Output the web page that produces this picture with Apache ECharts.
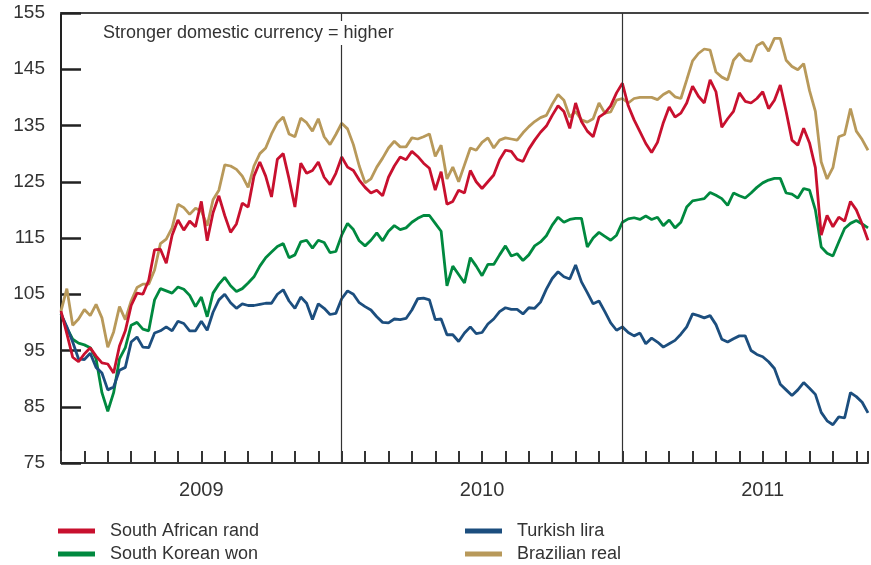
<!DOCTYPE html>
<html>
<head>
<meta charset="utf-8">
<script src="https://cdn.jsdelivr.net/npm/echarts@6/dist/echarts.min.js"></script>
<style>
  html, body { margin: 0; padding: 0; background: #fff; }
  #chart { width: 871px; height: 565px; }
</style>
</head>
<body>
<div id="chart"></div>
<script>
// Weekly-ish readings (4 per month) starting Jan 2009, index = 100-ish base
const MONTH_STEP = 0.25;
const yearLabels = { 6: "2009", 18: "2010", 30: "2011" };
const yearBreaks = [12, 24];

const randValues = [
  102, 98, 93.8, 93.0, 94.4, 95.5, 94.0, 92.8, 92.6, 91, 95.8, 98.5,
  103, 105.2, 105, 107.5, 112.9, 113, 110.5, 115.5, 118.2, 116.4, 118, 117,
  121.5, 114.5, 119.5, 122.5, 119, 116, 117.5, 121.2, 120.5, 126, 128.5, 126,
  122.3, 129, 130, 125.5, 120.5, 128.3, 126.5, 127, 128.5, 125.8, 124.5, 126.5,
  129.4, 127.6, 127, 125.3, 124, 123, 123.5, 122.5, 125.8, 127.8, 129.4, 128.9,
  130.4, 129.5, 128.3, 127.4, 123.5, 126.8, 121, 121.5, 123.5, 123, 127, 125,
  123.8, 125, 126.2, 128.9, 130.6, 130.4, 129, 128.6, 130.8, 132.4, 133.8, 134.9,
  136.8, 138.5, 137.5, 134.5, 139, 135.7, 134, 133, 136.5, 137.2, 138.5, 140.8,
  142.5, 138.5, 136, 133.9, 131.8, 130.2, 132, 135.5, 138.3, 136.5, 137.2, 139,
  142, 140.2, 139, 143.1, 141, 134.7, 136.2, 137.5, 140.8, 139.3, 139, 139.8,
  141, 138, 139.5, 142.2, 137.5, 132.4, 131.5, 134.5, 131.9, 127.5, 115.5, 119,
  117, 118.7, 118, 121.5, 120, 117.5, 114.6
];

const wonValues = [
  101.5, 99, 97, 96.3, 96, 95.5, 93.5, 87.5, 84.2, 87.5, 93.5, 95.5,
  99.5, 100, 98.8, 98.5, 104, 106, 105.6, 105.2, 106.3, 105.9, 104.8, 102.8,
  104.5, 101, 105.2, 106.8, 108, 106.5, 105.5, 106, 107, 108.1, 110, 111.5,
  112.5, 113.5, 114, 111.5, 112, 114.3, 114.6, 113.2, 114.6, 114.2, 112.4, 112.6,
  115.5, 117.6, 116.5, 114.5, 113.6, 114.6, 115.9, 114.5, 116.2, 117.2, 116.5, 116.8,
  117.8, 118.5, 119, 119, 117.6, 116.2, 106.5, 110, 108.5, 107, 111.5, 110,
  108.3, 110.3, 110.3, 112, 113.6, 111.8, 112.2, 111, 112, 113.6, 114.3, 115.4,
  117.3, 118.7, 117.8, 118.3, 118.5, 118.5, 113.4, 115, 116, 115.3, 114.6, 115.5,
  117.8, 118.4, 118.6, 118.3, 118.9, 118.3, 118.7, 117.2, 118.2, 116.8, 117.8, 120.5,
  121.6, 121.8, 122, 123.1, 122.6, 122, 120.8, 123, 122.5, 122.1, 123, 124,
  124.8, 125.3, 125.6, 125.6, 123, 122.8, 122.1, 123.8, 123.5, 120, 113.4, 112.3,
  111.8, 114.3, 116.7, 117.6, 118.1, 117.5, 116.8
];

const liraValues = [
  101.5, 99.2, 96.5, 93.5, 93.4, 94.5, 92, 91, 88, 88.5, 91.5, 92,
  96.5, 97.4, 95.6, 95.5, 98.1, 98.5, 99.2, 98.5, 100.2, 99.8, 98.5, 98.5,
  100.2, 98.6, 101.8, 104, 105, 103.5, 102.5, 103.3, 103, 103, 103.2, 103.4,
  103.4, 105, 105.8, 103.8, 102.5, 104.5, 103.4, 100.5, 103.3, 102.5, 101.4, 101.6,
  104.2, 105.6, 105, 103.5, 102.8, 102.2, 101, 100, 99.9, 100.6, 100.5, 100.7,
  102.2, 104.2, 104.3, 104, 100.5, 100.6, 97.8, 97.8, 96.6, 98.1, 99.2, 98,
  98.2, 99.7, 100.6, 101.9, 102.6, 102.3, 102.3, 101.5, 102.6, 102.5, 103.6, 105.9,
  107.8, 109, 108.1, 107.7, 110.2, 107.2, 105.3, 103.3, 103.8, 101.9, 99.9, 98.6,
  99.2, 98.2, 97.6, 98.1, 96.2, 97.2, 96.5, 95.6, 96.2, 96.8, 97.9, 99.2,
  101.5, 101.2, 100.8, 101.2, 99.6, 97, 96.5, 97.1, 97.6, 97.6, 95, 94.3,
  93.9, 93, 91.8, 89, 88, 87, 88, 89.3, 88.3, 87.2, 84, 82.5,
  81.8, 83.2, 83, 87.5, 86.8, 85.8, 83.9
];

const realValues = [
  102, 106, 99.5, 100.6, 102.3, 101.2, 103.2, 100.8, 95.6, 98.3, 102.8, 100.5,
  103.8, 106.2, 106.8, 106.8, 109.3, 114, 114.8, 116.8, 121, 120.4, 119.2, 120.3,
  119.8, 117.2, 121.8, 123.5, 128, 127.8, 127.2, 126, 124, 127.8, 130, 131,
  133.5, 135.5, 136.5, 133.5, 133, 136.3, 135.5, 134, 136.2, 133, 131.6, 133.4,
  135.4, 134.4, 131.6, 127.8, 124.8, 125.5, 127.6, 129.2, 131, 132.2, 131.2, 131.2,
  132.8, 132.6, 133, 133.5, 129.5, 131.5, 125.5, 127.6, 125, 128, 131, 130.6,
  132, 132.8, 131, 132.4, 132.8, 132.6, 132.4, 133.7, 134.8, 135.7, 136.4, 136.8,
  138.8, 140.5, 139.5, 136.5, 137.5, 136, 135.6, 136.2, 139, 137.2, 137.4, 139.5,
  139.8, 139, 139.8, 140, 140, 140, 139.6, 140.5, 141.1, 140.1, 139.8, 143.1,
  146.5, 147.8, 148.6, 148.4, 144.5, 143.6, 143.1, 146.6, 147.8, 146.6, 146.4, 149.2,
  149.8, 148.2, 150.5, 150.5, 146.6, 145.5, 144.9, 146, 141.2, 137.5, 128.5, 125.5,
  127.5, 133, 133.4, 138, 134, 132.5, 130.6
];

const COLORS = {
  rand: "#c8102e",
  won: "#00893f",
  lira: "#1c4e7e",
  real: "#b8995a",
};

const FONT = '"Liberation Sans", Arial, sans-serif';

function toPoints(values) {
  return values.map((v, i) => [i * MONTH_STEP, v]);
}

function lineSeries(name, values, color, extra) {
  return Object.assign({
    name: name,
    type: "line",
    data: toPoints(values),
    showSymbol: false,
    symbol: "none",
    color: color,
    lineStyle: { color: color, width: 2.8 },
    itemStyle: { color: color },
  }, extra || {});
}

const chart = echarts.init(document.getElementById("chart"), null, { renderer: "canvas" });

const legendText = { fontFamily: FONT, fontSize: 18, color: "#333", lineHeight: 18, padding: [0, 0, 0, 10] };

chart.setOption({
  animation: false,
  backgroundColor: "#fff",
  grid: { left: 61, right: 0, top: 13, bottom: 102, containLabel: false },
  xAxis: [
    {
      type: "value",
      min: 0,
      max: 34.5,
      interval: 1,
      axisLine: { show: true, lineStyle: { color: "#333", width: 2 } },
      axisTick: { show: true, inside: true, length: 12, lineStyle: { color: "#333", width: 2 } },
      axisLabel: {
        margin: 17,
        fontFamily: FONT,
        fontSize: 20,
        color: "#333",
        formatter: (v) => yearLabels[v] || "",
      },
      splitLine: { show: false },
    },
    {
      type: "value",
      position: "top",
      min: 0,
      max: 34.5,
      axisLine: { show: true, onZero: false, lineStyle: { color: "#444", width: 2 } },
      axisTick: { show: false },
      axisLabel: { show: false },
      splitLine: { show: false },
    },
  ],
  yAxis: {
    type: "value",
    min: 75,
    max: 155,
    interval: 10,
    axisLine: { show: true, lineStyle: { color: "#222", width: 2 } },
    axisTick: { show: true, inside: true, length: 20, lineStyle: { color: "#222", width: 2.5 } },
    axisLabel: { margin: 16, fontFamily: FONT, fontSize: 19, color: "#333" },
    splitLine: { show: false },
  },
  legend: [
    {
      data: ["South African rand", "South Korean won"],
      orient: "vertical",
      left: 58,
      top: 522,
      padding: 0,
      itemGap: 5,
      itemWidth: 37,
      itemHeight: 5,
      icon: "rect",
      textStyle: legendText,
    },
    {
      data: ["Turkish lira", "Brazilian real"],
      orient: "vertical",
      left: 465,
      top: 522,
      padding: 0,
      itemGap: 5,
      itemWidth: 37,
      itemHeight: 5,
      icon: "rect",
      textStyle: legendText,
    },
  ],
  graphic: [
    {
      type: "text",
      left: 100,
      top: 21,
      z: 100,
      style: {
        text: "Stronger domestic currency = higher",
        font: '18px "Liberation Sans", Arial, sans-serif',
        fill: "#333",
        backgroundColor: "#fff",
        padding: [3, 3, 3, 3],
      },
    },
  ],
  series: [
    lineSeries("Brazilian real", realValues, COLORS.real, {
      markLine: {
        silent: true,
        symbol: ["none", "none"],
        label: { show: false },
        lineStyle: { color: "#333", width: 1.2, type: "solid" },
        data: yearBreaks.map((m) => ({ xAxis: m })),
      },
    }),
    lineSeries("South Korean won", wonValues, COLORS.won),
    lineSeries("Turkish lira", liraValues, COLORS.lira),
    lineSeries("South African rand", randValues, COLORS.rand),
  ],
});
</script>
</body>
</html>
